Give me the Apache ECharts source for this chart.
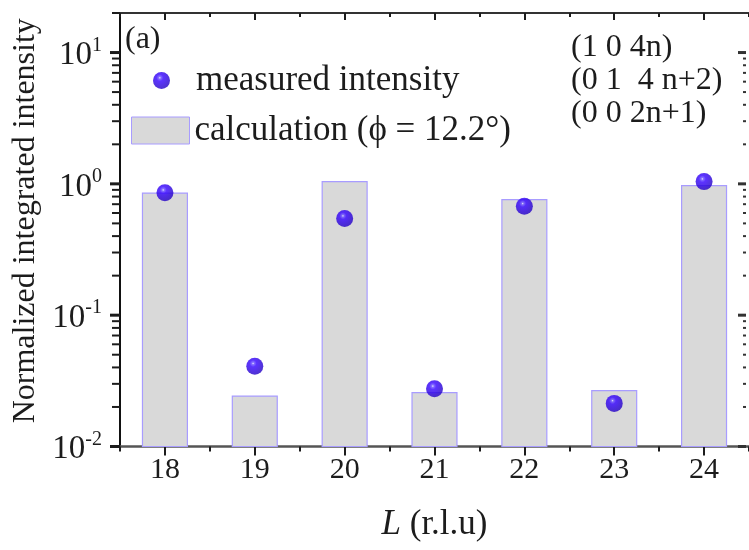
<!DOCTYPE html>
<html>
<head>
<meta charset="utf-8">
<script src="https://cdn.jsdelivr.net/npm/echarts@6/dist/echarts.min.js"></script>
<style>
  html, body { margin: 0; padding: 0; background: #fff; }
  #chart { width: 749px; height: 550px; }
</style>
</head>
<body>
<div id="chart"></div>
<script>
// L values (r.l.u) along the rod
const L_VALUES = ['18', '19', '20', '21', '22', '23', '24'];
// calculated intensity, phi = 12.2 deg
const CALCULATION = [0.85, 0.0242, 1.04, 0.0257, 0.758, 0.0266, 0.97];
// measured integrated intensity (normalized)
const MEASURED = [0.857, 0.0409, 0.544, 0.0275, 0.675, 0.0213, 1.04];
// log axis range and decade labels
const Y_MIN = 0.01;
const Y_MAX = 20;
const DECADES = [0.01, 0.1, 1, 10];
const MANTISSAS = [1, 2, 3, 4, 5, 6, 7, 8, 9];
const RELATIONS = ['(1 0 4n)', '(0 1  4 n+2)', '(0 0 2n+1)'];

const SERIF = '"Liberation Serif", "Times New Roman", serif';
const INK = '#1c1c1c';
const CALC_NAME = 'calculation (\u03d5 = 12.2\u00b0)';
const MEAS_NAME = 'measured intensity';

// tick positions on the log axis: 1..9 within each decade
const Y_TICKS = [];
DECADES.forEach(d => MANTISSAS.forEach(m => {
  const v = +(d * m).toPrecision(6);
  if (v <= Y_MAX) Y_TICKS.push(v);
}));

// shaded sphere marker
const sphere = {
  type: 'radial', x: 0.4, y: 0.34, r: 0.68,
  colorStops: [
    { offset: 0, color: '#e8e4ff' },
    { offset: 0.1, color: '#6a50ff' },
    { offset: 0.3, color: '#3300ff' },
    { offset: 1, color: '#2200c2' }
  ]
};

const chart = echarts.init(document.getElementById('chart'), null, { renderer: 'canvas' });

function catAxis(position, opts) {
  return Object.assign({
    type: 'category',
    data: L_VALUES,
    position: position,
    boundaryGap: true,
    axisLine: { show: false },
    axisTick: { show: false },
    axisLabel: { show: false },
    splitLine: { show: false }
  }, opts);
}

const option = {
  animation: false,
  backgroundColor: '#ffffff',
  grid: { left: 120, right: -3, top: 13, bottom: 103.5, containLabel: false },
  xAxis: [
    catAxis('bottom', {
      axisLine: { show: true, lineStyle: { color: '#555', width: 2.5 } },
      axisTick: { show: true, alignWithLabel: true, length: 9, lineStyle: { color: INK, width: 2 } },
      axisLabel: { show: true, margin: 9, fontFamily: SERIF, fontSize: 30, color: INK },
      name: '{i|L} (r.l.u)',
      nameLocation: 'middle',
      nameGap: 61,
      nameTextStyle: {
        fontFamily: SERIF, fontSize: 35, color: INK,
        rich: { i: { fontFamily: SERIF, fontSize: 35, fontStyle: 'italic', color: INK } }
      }
    }),
    catAxis('bottom', {
      axisTick: { show: true, length: 5, lineStyle: { color: INK, width: 2 } }
    }),
    catAxis('top', {
      axisLine: { show: true, lineStyle: { color: '#333', width: 2 } },
      axisTick: { show: true, inside: true, alignWithLabel: true, length: 7, lineStyle: { color: INK, width: 2 } }
    }),
    catAxis('top', {
      axisTick: { show: true, inside: true, length: 4, lineStyle: { color: INK, width: 2 } }
    })
  ],
  yAxis: [{
    type: 'log',
    logBase: 10,
    min: Y_MIN,
    max: Y_MAX,
    axisLine: { show: true, lineStyle: { color: '#111', width: 2 } },
    axisTick: { show: false },
    splitLine: { show: false },
    axisLabel: {
      margin: 18,
      formatter: function (v) {
        const e = Math.log10(v);
        const r = Math.round(e);
        if (Math.abs(e - r) > 1e-6) return '';
        return '{b|10}{e|' + r + '}';
      },
      rich: {
        b: { fontFamily: SERIF, fontSize: 33, color: INK, padding: [6, 0, 0, 0] },
        e: { fontFamily: SERIF, fontSize: 20, color: INK, padding: [0, 0, 14, 0] }
      }
    },
    name: 'Normalized integrated intensity',
    nameLocation: 'middle',
    nameGap: 69,
    nameTextStyle: { fontFamily: SERIF, fontSize: 32, color: INK, padding: [0, 0, 0, 18] }
  }],
  legend: [{
    data: [{ name: MEAS_NAME, icon: 'circle' }],
    orient: 'vertical',
    left: 153, top: 63,
    padding: 0,
    itemWidth: 17, itemHeight: 17,
    selectedMode: false,
    textStyle: { fontFamily: SERIF, fontSize: 35, color: INK, padding: [0, 0, 0, 21] }
  }, {
    data: [{
      name: CALC_NAME, icon: 'rect',
      itemStyle: { color: '#d9d9d9', borderColor: '#a89cff', borderWidth: 1 }
    }],
    orient: 'vertical',
    left: 131, top: 113,
    padding: 0,
    itemWidth: 58, itemHeight: 27,
    selectedMode: false,
    textStyle: { fontFamily: SERIF, fontSize: 35, color: INK }
  }],
  graphic: [{
    type: 'text', left: 125, top: 24, z: 100,
    style: { text: '(a)', fontFamily: SERIF, fontSize: 32, fill: INK }
  }, {
    type: 'text', left: 571, top: 31, z: 100,
    style: { text: RELATIONS.join('\n'), fontFamily: SERIF, fontSize: 32, lineHeight: 33, fill: INK }
  }],
  series: [{
    // calculated intensities as bars rising from the bottom of the log axis
    name: CALC_NAME,
    type: 'custom',
    z: 2,
    itemStyle: { color: '#d9d9d9', borderColor: '#a89cff', borderWidth: 1 },
    encode: { x: 0, y: 1 },
    data: CALCULATION.map((v, i) => [i, v]),
    renderItem: function (params, api) {
      const top = api.coord([api.value(0), api.value(1)]);
      const base = api.coord([api.value(0), Y_MIN]);
      const w = params.coordSys.width / L_VALUES.length * 0.5;
      return {
        type: 'rect',
        shape: { x: top[0] - w / 2, y: top[1], width: w, height: base[1] - top[1] },
        style: { fill: '#d9d9d9', stroke: '#a89cff', lineWidth: 1.2 }
      };
    }
  }, {
    name: MEAS_NAME,
    type: 'scatter',
    z: 5,
    symbol: 'circle',
    symbolSize: 17,
    itemStyle: { color: sphere },
    data: MEASURED.map((v, i) => [i, v])
  }, {
    // log-axis ticks on the left (outward) and right (inward) frame edges
    type: 'custom',
    z: 10,
    silent: true,
    clip: false,
    encode: { x: 0, y: 1 },
    data: Y_TICKS.map(v => [0, v]),
    renderItem: function (params, api) {
      const v = api.value(1);
      const p = api.coord([0, v]);
      const cs = params.coordSys;
      const major = DECADES.indexOf(v) >= 0;
      const xl = cs.x;
      const xr = cs.x + cs.width - 3;
      const stL = { stroke: INK, lineWidth: major ? 3 : 2 };
      const stR = { stroke: '#333', lineWidth: major ? 3 : 2 };
      return {
        type: 'group',
        children: [
          { type: 'line', shape: { x1: xl - (major ? 10 : 8), y1: p[1], x2: xl, y2: p[1] }, style: stL },
          { type: 'line', shape: { x1: xr - (major ? 8 : 3), y1: p[1], x2: xr, y2: p[1] }, style: stR }
        ]
      };
    }
  }]
};

chart.setOption(option);
</script>
</body>
</html>
